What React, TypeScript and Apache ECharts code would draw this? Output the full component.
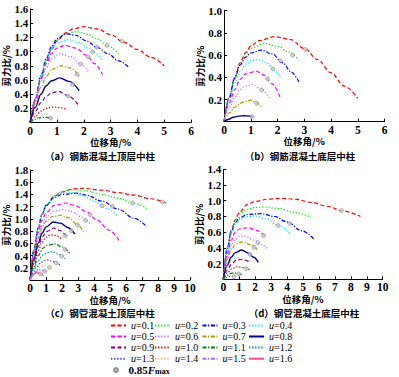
import React, { useEffect, useRef } from "react";
import * as echarts from "echarts";

const uLabels = ["0.1","0.2","0.3","0.4","0.5","0.6","0.7","0.8","0.9","1.0","1.1","1.2","1.3","1.4","1.5","1.6"];

// (a) RC top-storey column
const panelA: number[][][] = [
  [[0,0],[0.2,0.32],[0.4,0.62],[0.6,0.86],[0.8,1.03],[1.0,1.15],[1.3,1.26],[1.6,1.32],[2.0,1.35],[2.5,1.32],[3.0,1.24],[3.5,1.13],[4.0,1.03],[4.5,0.92],[5.0,0.80]],
  [[0,0],[0.2,0.33],[0.4,0.64],[0.6,0.88],[0.8,1.05],[1.0,1.16],[1.3,1.25],[1.7,1.28],[2.1,1.25],[2.5,1.18],[2.9,1.08],[3.3,0.97]],
  [[0,0],[0.2,0.34],[0.4,0.66],[0.6,0.9],[0.8,1.07],[1.0,1.18],[1.35,1.25],[1.7,1.23],[2.1,1.15],[2.5,1.06],[2.9,0.97],[3.3,0.87],[3.7,0.77]],
  [[0,0],[0.2,0.34],[0.4,0.65],[0.6,0.88],[0.8,1.03],[1.0,1.12],[1.4,1.17],[1.8,1.13],[2.2,1.04],[2.7,0.87]],
  [[0,0],[0.2,0.33],[0.4,0.62],[0.6,0.83],[0.8,0.97],[1.0,1.05],[1.3,1.09],[1.7,1.05],[2.1,0.95],[2.4,0.83],[2.7,0.68]],
  [[0,0],[0.2,0.31],[0.4,0.58],[0.6,0.77],[0.8,0.9],[1.1,0.97],[1.5,0.93],[1.9,0.82],[2.2,0.70]],
  [[0,0],[0.2,0.28],[0.4,0.5],[0.6,0.65],[0.8,0.75],[1.15,0.80],[1.5,0.77],[1.83,0.65]],
  [[0,0],[0.2,0.22],[0.4,0.40],[0.6,0.52],[0.8,0.59],[1.1,0.63],[1.45,0.58],[1.83,0.45]],
  [[0,0],[0.2,0.16],[0.4,0.28],[0.6,0.37],[0.8,0.42],[1.05,0.44],[1.4,0.38],[1.83,0.23]],
  [[0,0],[0.2,0.09],[0.4,0.16],[0.6,0.2],[0.86,0.22],[1.1,0.21],[1.33,0.19]],
  [[0,0],[0.15,0.04],[0.3,0.065],[0.5,0.075],[0.7,0.07],[0.86,0.055]],
];

// (b) RC bottom-storey column
const panelB: number[][][] = [
  [[0,0],[0.2,0.22],[0.4,0.40],[0.6,0.53],[0.8,0.62],[1.0,0.68],[1.3,0.73],[1.9,0.766],[2.5,0.74],[3.0,0.66],[3.5,0.56],[4.0,0.44],[4.5,0.32],[5.0,0.21]],
  [[0,0],[0.2,0.22],[0.4,0.40],[0.6,0.52],[0.8,0.61],[1.0,0.66],[1.5,0.705],[2.0,0.68],[2.4,0.63],[2.8,0.555]],
  [[0,0],[0.2,0.22],[0.4,0.39],[0.6,0.51],[0.8,0.58],[1.0,0.62],[1.4,0.645],[1.8,0.61],[2.2,0.53],[2.5,0.45],[2.8,0.36]],
  [[0,0],[0.2,0.2],[0.4,0.35],[0.6,0.45],[0.8,0.51],[1.0,0.55],[1.3,0.56],[1.6,0.53],[1.9,0.46],[2.13,0.38]],
  [[0,0],[0.2,0.17],[0.4,0.29],[0.6,0.38],[0.8,0.43],[1.2,0.455],[1.5,0.42],[1.8,0.34],[2.13,0.20]],
  [[0,0],[0.2,0.13],[0.4,0.22],[0.6,0.29],[0.8,0.32],[1.05,0.335],[1.35,0.30],[1.73,0.20]],
  [[0,0],[0.2,0.08],[0.4,0.13],[0.6,0.165],[0.8,0.185],[1.0,0.195],[1.2,0.17],[1.44,0.125]],
  [[0,0],[0.15,0.02],[0.35,0.04],[0.55,0.05],[0.75,0.054],[0.95,0.05],[1.07,0.045]],
];

// (c) CFST top-storey column
const panelC: number[][][] = [
  [[0,0],[0.25,0.5],[0.5,0.85],[0.75,1.08],[1.0,1.22],[1.5,1.37],[2.0,1.44],[2.7,1.49],[3.3,1.50],[4.5,1.47],[5.5,1.43],[6.5,1.39],[7.5,1.33],[8.5,1.26]],
  [[0,0],[0.25,0.5],[0.5,0.85],[0.75,1.08],[1.0,1.23],[1.5,1.38],[2.0,1.45],[2.6,1.48],[3.5,1.46],[4.5,1.40],[5.5,1.34],[6.5,1.25],[7.3,1.17]],
  [[0,0],[0.25,0.5],[0.5,0.85],[0.75,1.08],[1.0,1.22],[1.5,1.35],[2.0,1.40],[2.9,1.42],[3.5,1.39],[4.5,1.29],[5.5,1.16],[6.5,1.01],[7.3,0.87]],
  [[0,0],[0.25,0.5],[0.5,0.85],[0.75,1.08],[1.0,1.23],[1.5,1.37],[2.0,1.42],[2.6,1.43],[3.2,1.39],[4.0,1.29],[4.8,1.17],[5.5,1.03]],
  [[0,0],[0.25,0.45],[0.5,0.78],[0.75,0.98],[1.0,1.1],[1.5,1.22],[2.2,1.26],[2.8,1.22],[3.5,1.12],[4.2,0.98],[4.9,0.82],[5.6,0.63]],
  [[0,0],[0.25,0.42],[0.5,0.72],[0.75,0.9],[1.0,1.02],[1.5,1.13],[2.1,1.15],[2.6,1.12],[3.2,1.03],[3.75,0.92]],
  [[0,0],[0.25,0.4],[0.5,0.68],[0.75,0.85],[1.0,0.96],[1.4,1.04],[1.9,1.06],[2.4,1.02],[2.9,0.92],[3.33,0.79]],
  [[0,0],[0.25,0.35],[0.5,0.6],[0.75,0.77],[1.0,0.87],[1.45,0.95],[1.9,0.93],[2.35,0.86],[2.8,0.75]],
  [[0,0],[0.25,0.32],[0.5,0.55],[0.75,0.7],[1.0,0.79],[1.45,0.85],[1.85,0.81],[2.3,0.70]],
  [[0,0],[0.25,0.28],[0.5,0.48],[0.75,0.62],[1.0,0.70],[1.25,0.74],[1.6,0.73],[2.0,0.66]],
  [[0,0],[0.2,0.2],[0.5,0.4],[0.8,0.52],[1.1,0.57],[1.55,0.59],[2.0,0.54],[2.5,0.43]],
  [[0,0],[0.2,0.16],[0.5,0.32],[0.8,0.41],[1.1,0.45],[1.35,0.46],[1.8,0.42],[2.2,0.35]],
  [[0,0],[0.2,0.12],[0.4,0.21],[0.7,0.29],[1.04,0.33],[1.5,0.30],[1.9,0.24]],
  [[0,0],[0.2,0.09],[0.4,0.16],[0.6,0.21],[0.9,0.24],[1.1,0.22],[1.3,0.19]],
  [[0,0],[0.15,0.07],[0.3,0.12],[0.5,0.16],[0.65,0.17],[0.85,0.155],[1.04,0.13]],
  [[0,0],[0.1,0.06],[0.25,0.1],[0.42,0.12],[0.6,0.11],[0.83,0.07]],
];

// (d) CFST bottom-storey column
const panelD: number[][][] = [
  [[0,0],[0.25,0.4],[0.5,0.62],[0.75,0.76],[1.0,0.85],[1.5,0.95],[2.0,0.99],[2.8,1.02],[3.7,1.03],[4.5,1.02],[5.5,0.98],[6.5,0.93],[7.5,0.87],[8.6,0.80]],
  [[0,0],[0.25,0.4],[0.5,0.62],[0.75,0.75],[1.0,0.83],[1.5,0.89],[2.0,0.915],[2.6,0.92],[3.5,0.90],[4.5,0.85],[5.5,0.79]],
  [[0,0],[0.25,0.39],[0.5,0.6],[0.75,0.72],[1.0,0.78],[1.5,0.825],[2.4,0.835],[3.2,0.80],[4.0,0.73],[4.9,0.62],[5.75,0.50]],
  [[0,0],[0.25,0.38],[0.5,0.58],[0.75,0.7],[1.0,0.76],[1.5,0.80],[2.1,0.805],[2.7,0.77],[3.4,0.69],[4.2,0.575]],
  [[0,0],[0.25,0.32],[0.5,0.5],[0.75,0.6],[1.0,0.64],[1.57,0.657],[2.1,0.62],[2.72,0.53]],
  [[0,0],[0.25,0.28],[0.5,0.43],[0.75,0.51],[1.0,0.545],[1.36,0.55],[1.9,0.50],[2.4,0.44],[2.82,0.38]],
  [[0,0],[0.25,0.25],[0.5,0.38],[0.75,0.44],[1.0,0.47],[1.26,0.475],[1.7,0.44],[2.2,0.36]],
  [[0,0],[0.25,0.18],[0.5,0.28],[0.75,0.34],[1.15,0.373],[1.6,0.33],[1.9,0.28],[2.2,0.215]],
  [[0,0],[0.25,0.12],[0.5,0.19],[0.8,0.24],[1.15,0.255],[1.4,0.24],[1.67,0.22]],
  [[0,0],[0.25,0.08],[0.5,0.13],[0.84,0.16],[1.2,0.15],[1.67,0.12]],
  [[0,0],[0.2,0.045],[0.45,0.075],[0.7,0.08],[0.95,0.07],[1.2,0.055]],
  [[0,0],[0.15,0.02],[0.35,0.035],[0.55,0.04],[0.75,0.03]],
];

const xMaxes = [6, 6, 10, 10];
const yMaxes = [1.6, 1.0, 1.8, 1.4];
const captions = ["（a）钢筋混凝土顶层中柱", "（b）钢筋混凝土底层中柱", "（c）钢管混凝土顶层中柱", "（d）钢管混凝土底层中柱"];

const DASH = [4, 2.5];
const DOT = [1.3, 1.8];
const DASHDOT = [4, 1.6, 1.2, 1.6];
const lineStyles: any[] = [
  { color: "#ff0000", type: DASH },
  { color: "#00ee00", type: DOT },
  { color: "#0000ff", type: DASHDOT },
  { color: "#00e5ff", type: DOT },
  { color: "#ff00ff", type: DASH },
  { color: "#bb77ff", type: DOT },
  { color: "#a0a000", type: DASHDOT },
  { color: "#00008b", type: "solid" },
  { color: "#800080", type: DASH },
  { color: "#c00000", type: DOT },
  { color: "#008000", type: DASHDOT },
  { color: "#008080", type: DOT },
  { color: "#3344cc", type: DOT },
  { color: "#ffa860", type: DOT },
  { color: "#a070ff", type: DASHDOT },
  { color: "#ff4d94", type: "solid" },
];

const grids = [
  { left: 30, top: 9, width: 161, height: 113.6 },
  { left: 224, top: 10.7, width: 160.5, height: 111 },
  { left: 30, top: 170, width: 160, height: 110 },
  { left: 223.3, top: 169.3, width: 159.4, height: 110 },
];
const captionPos = [[100, 155.6], [300, 155.6], [100, 312.8], [304, 313]];

function marker85(c: number[][]): number[] | null {
  let pk = 0, pi = 0;
  c.forEach((p, i) => { if (p[1] > pk) { pk = p[1]; pi = i; } });
  const t = 0.85 * pk;
  for (let i = pi + 1; i < c.length; i++) {
    if (c[i][1] <= t) {
      const [x0, y0] = c[i - 1];
      const [x1, y1] = c[i];
      const f = (y0 - t) / (y0 - y1);
      return [x0 + f * (x1 - x0), t];
    }
  }
  return null;
}

const SERIF = "'Liberation Serif', 'Times New Roman', serif";
const CJK = "'Noto Sans CJK SC', sans-serif";

export default function App() {
  const ref = useRef<HTMLDivElement>(null);
  useEffect(() => {
    if (!ref.current) return;
    const chart = echarts.init(ref.current, null, { renderer: "svg" });
    const panels = [panelA, panelB, panelC, panelD];
    const series: any[] = [];
    panels.forEach((panel, pi) => {
      panel.forEach((curve, ci) => {
        const st = lineStyles[ci];
        series.push({
          type: "line",
          name: "u=" + uLabels[ci],
          xAxisIndex: pi,
          yAxisIndex: pi,
          data: curve,
          symbol: "none",
          showSymbol: false,
          smooth: 0.35,
          smoothMonotone: "x",
          silent: true,
          lineStyle: { color: st.color, type: st.type, width: st.type === "solid" ? 1.4 : 1.2 },
          itemStyle: { color: st.color },
          z: 2,
        });
      });
      const marks = panel.map(marker85).filter((m) => m) as number[][];
      series.push({
        type: "scatter",
        name: "0.85Fmax",
        xAxisIndex: pi,
        yAxisIndex: pi,
        data: marks,
        symbol: "circle",
        symbolSize: 4,
        silent: true,
        itemStyle: { color: "#c8c8c8", borderColor: "#7a7a7a", borderWidth: 0.6 },
        z: 5,
      });
    });

    const axisLine = { show: true, onZero: false, lineStyle: { color: "#000", width: 1 } };
    const xAxis = grids.map((_, i) => ({
      type: "value",
      gridIndex: i,
      min: 0,
      max: xMaxes[i],
      interval: 1,
      axisLine,
      axisTick: { show: true, inside: true, length: 3, lineStyle: { color: "#000" } },
      splitLine: { show: false },
      axisLabel: { margin: 2, color: "#000", fontFamily: SERIF, fontSize: 11.5, fontWeight: "bold" },
      name: "位移角/%",
      nameLocation: "middle",
      nameGap: 12.5,
      nameTextStyle: { fontFamily: CJK, fontSize: 9.5, fontWeight: "bold", color: "#000" },
    }));
    const yAxis = grids.map((_, i) => ({
      type: "value",
      gridIndex: i,
      min: 0,
      max: yMaxes[i],
      interval: 0.2,
      axisLine,
      axisTick: { show: true, inside: true, length: 3, lineStyle: { color: "#000" } },
      splitLine: { show: false },
      axisLabel: {
        margin: 2,
        color: "#000",
        fontFamily: SERIF,
        fontSize: 11,
        fontWeight: "bold",
        formatter: (v: number) => (v === 0 ? "" : v.toFixed(1)),
      },
      name: "剪力比/%",
      nameLocation: "middle",
      nameGap: 18.5,
      nameTextStyle: { fontFamily: CJK, fontSize: 9.5, fontWeight: "bold", color: "#000" },
    }));

    const legendText = {
      fontFamily: SERIF,
      fontSize: 10,
      color: "#000",
      rich: { i: { fontFamily: SERIF, fontSize: 10, fontStyle: "italic", color: "#000" } },
    };
    const colLeft = [110, 154, 201.5, 248];
    const rowTop = [320.4, 331.5, 342.6, 353.7];
    const legend: any[] = [];
    uLabels.forEach((u, k) => {
      const r = Math.floor(k / 4);
      const c = k % 4;
      legend.push({
        orient: "vertical",
        left: colLeft[c],
        top: rowTop[r],
        itemWidth: 15,
        itemHeight: 8,
        padding: 0,
        selectedMode: false,
        itemStyle: { opacity: 0 },
        data: ["u=" + u],
        formatter: (n: string) => "{i|u}" + n.slice(1),
        textStyle: legendText,
      });
    });
    legend.push({
      orient: "vertical",
      left: 113,
      top: 364.6,
      padding: 0,
      itemWidth: 15,
      itemHeight: 4,
      selectedMode: false,
      data: ["0.85Fmax"],
      formatter: () => "0.85{i|F}{s|max}",
      textStyle: {
        fontFamily: SERIF,
        fontSize: 11,
        fontWeight: "bold",
        color: "#000",
        rich: {
          i: { fontFamily: SERIF, fontSize: 11, fontStyle: "italic", fontWeight: "bold", color: "#000" },
          s: { fontFamily: SERIF, fontSize: 8, color: "#000", verticalAlign: "bottom" },
        },
      },
    });

    const graphic = captions.map((t, i) => ({
      type: "text",
      x: captionPos[i][0],
      y: captionPos[i][1],
      style: {
        text: t,
        fontFamily: CJK,
        fontSize: 9.5,
        fontWeight: "bold",
        fill: "#000",
        align: "center",
        verticalAlign: "middle",
      },
    }));

    chart.setOption({
      animation: false,
      backgroundColor: "#fff",
      grid: grids.map((g) => ({ ...g, containLabel: false })),
      xAxis,
      yAxis,
      legend,
      series,
      graphic,
    });
    return () => chart.dispose();
  }, []);
  return <div ref={ref} style={{ position: "absolute", left: 0, top: 0, width: 399, height: 377 }} />;
}
